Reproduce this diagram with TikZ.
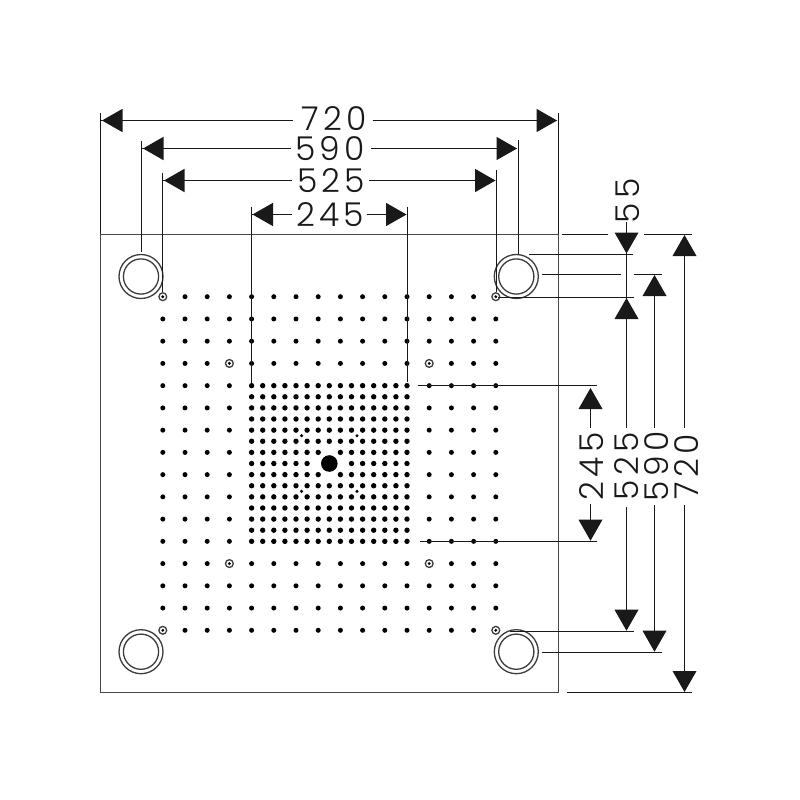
\documentclass[tikz,border=0pt]{standalone}
\usepackage{fontspec}
\setmainfont{Poppins Light}
\newfontfamily\dimfont[LetterSpace=13]{Poppins Light}
\usetikzlibrary{calc}
\definecolor{ink}{RGB}{25,25,25}
\tikzset{
  x=1bp,y=-1bp,
  plate/.style={draw=ink!80,line width=1.7bp},
  ringline/.style={draw=ink!85,line width=1.3bp},
  dimline/.style={draw=ink,line width=1.8bp},
  hole/.style={fill=black},
  dimtext/.style={font=\dimfont\fontsize{33}{33}\selectfont,text=ink,inner sep=0pt,anchor=center},
}
\newcommand{\headL}[2]{\fill[ink] (#1,#2) -- ++(20.5,-11.7) -- ++(0,23.4) -- cycle;}
\newcommand{\headR}[2]{\fill[ink] (#1,#2) -- ++(-20.5,-11.7) -- ++(0,23.4) -- cycle;}
\newcommand{\headU}[2]{\fill[ink] (#1,#2) -- ++(-12,21) -- ++(24,0) -- cycle;}
\newcommand{\headD}[2]{\fill[ink] (#1,#2) -- ++(-12,-21) -- ++(24,0) -- cycle;}
\begin{document}
\begin{tikzpicture}
\useasboundingbox (0,0) rectangle (800,800);
\draw[plate] (100.5,234.5) rectangle (558.5,692.5);
% dense grid
\foreach \i in {-7,...,7}\foreach \j in {-7,...,7}{
  \pgfmathtruncatemacro{\d}{abs(\i)+abs(\j)}
  \ifnum\d>1 \fill[hole] (329.3+11.1*\i,463.5+11.12*\j) circle (2.7);\fi
}
\fill[hole] (329.3,463.5) circle (8.3);
\foreach \i in {-1,1}\foreach \j in {-1,1}{
  \fill[hole] (329.3+27.7*\i,463.5+27.8*\j) circle (1.7);
}
% outer grid
\foreach \i in {-15,-13,...,15}\foreach \j in {-15,-13,...,15}{
  \pgfmathtruncatemacro{\ai}{abs(\i)}
  \pgfmathtruncatemacro{\aj}{abs(\j)}
  \pgfmathtruncatemacro{\inner}{(\ai<8)&&(\aj<8)?1:0}
  \pgfmathtruncatemacro{\ring}{((\ai==15)&&(\aj==15))||((\ai==9)&&(\aj==9))?1:0}
  \ifnum\inner=0
    \ifnum\ring=0
      \fill[hole] (329.3+11.1*\i,463.5+11.12*\j) circle (2.5);
    \else
      \draw[ringline] (329.3+11.1*\i,463.5+11.12*\j) circle (3.9);
      \fill[hole] (329.3+11.1*\i,463.5+11.12*\j) circle (1.6);
    \fi
  \fi
}
% mounting rings
\foreach \cx/\cy in {141/276.5,516.3/276.5,141/651.7,516.3/651.7}{
  \draw[ringline] (\cx,\cy) circle (22);
  \draw[ringline] (\cx,\cy) circle (17.6);
}
% horizontal dimensions
\node[dimtext] (h720) at (334.5,119) {720};
\node[dimtext] (h590) at (330,149) {590};
\node[dimtext] (h525) at (331,181) {525};
\node[dimtext] (h245) at (330,215) {245};
\draw[dimline] (100.5,113) -- (100.5,234);
\draw[dimline] (558.5,113) -- (558.5,234);
\draw[dimline] (101,120.5) -- (293,120.5) (373,120.5) -- (557,120.5);
\headL{102}{120.5}\headR{557}{120.5}
\draw[dimline] (141.5,141) -- (141.5,252);
\draw[dimline] (518.5,140) -- (518.5,254);
\draw[dimline] (142,148.5) -- (291,148.5) (371,148.5) -- (517,148.5);
\headL{143}{148.5}\headR{517}{148.5}
\draw[dimline] (162.5,172.7) -- (162.5,292);
\draw[dimline] (496.5,170) -- (496.5,292);
\draw[dimline] (163,180.5) -- (292,180.5) (369,180.5) -- (495,180.5);
\headL{164}{180.5}\headR{495.5}{180.5}
\draw[dimline] (251.5,206.7) -- (251.5,383);
\draw[dimline] (407.5,206.7) -- (407.5,382);
\draw[dimline] (252,214.5) -- (292,214.5) (367,214.5) -- (406,214.5);
\headL{252.5}{214.5}\headR{406.5}{214.5}
% vertical dimensions
\node[dimtext,rotate=90] (v55) at (628,201) {55};
\node[dimtext,rotate=90] (v245) at (591.5,466.5) {245};
\node[dimtext,rotate=90] (v525) at (627,466.5) {525};
\node[dimtext,rotate=90] (v590) at (657,466.5) {590};
\node[dimtext,rotate=90] (v720) at (687,466.5) {720};
% 55 / 525
\draw[dimline] (626.5,222) -- (626.5,428) (626.5,507) -- (626.5,630);
\headD{626.5}{253.5}\headU{626.5}{298}\headD{626.5}{630.7}
\draw[dimline] (529,254.5) -- (633,254.5);
\draw[dimline] (498,297.5) -- (634,297.5);
\draw[dimline] (510,631.5) -- (634,631.5);
% 590
\draw[dimline] (654.5,276) -- (654.5,428) (654.5,505) -- (654.5,651);
\headU{654.5}{275}\headD{654.5}{651.7}
\draw[dimline] (542,274.5) -- (621,274.5) (634,274.5) -- (662,274.5);
\draw[dimline] (542,652.5) -- (662,652.5);
% 720
\draw[dimline] (684.5,236) -- (684.5,428) (684.5,505) -- (684.5,691);
\headU{684.5}{235}\headD{684.5}{692}
\draw[dimline] (562,234.5) -- (608,234.5) (644,234.5) -- (692,234.5);
\draw[dimline] (567,692.5) -- (692,692.5);
% 245
\draw[dimline] (590.5,400) -- (590.5,428) (590.5,504) -- (590.5,530);
\headU{590.5}{388}\headD{590.5}{540.7}
\draw[dimline] (418,385.5) -- (597,385.5);
\draw[dimline] (420,541.5) -- (597,541.5);
\end{tikzpicture}
\end{document}
